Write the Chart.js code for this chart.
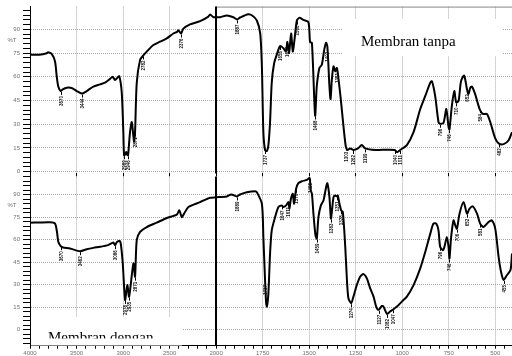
<!DOCTYPE html>
<html>
<head>
<meta charset="utf-8">
<script src="https://cdn.jsdelivr.net/npm/chart.js@4.4.1/dist/chart.umd.min.js"></script>
<style>
  body { margin: 0; background: #fff; }
  #wrap { position: relative; width: 512px; height: 356px; }
  canvas { position: absolute; left: 0; }
  #topChart { top: 0; }
  #bottomChart { top: 170px; }
</style>
</head>
<body>
<div id="wrap">
  <canvas id="topChart" width="512" height="180"></canvas>
  <canvas id="bottomChart" width="512" height="186"></canvas>
</div>
<script>
// spectrum 1 : Membran tanpa (wavenumber cm-1, %T)
const tanpaWave = [4000, 3900, 3820, 3806, 3767, 3731, 3713, 3696, 3670, 3648, 3605, 3552, 3498, 3444, 3390, 3319, 3247, 3194, 3140, 3111, 3086, 3061, 3040, 3014, 2997, 2989, 2975, 2965, 2955, 2946, 2925, 2906, 2882, 2871, 2853, 2817, 2782, 2728, 2674, 2602, 2530, 2459, 2419, 2405, 2376, 2352, 2280, 2172, 2083, 2065, 2029, 2000, 1978, 1942, 1907, 1887, 1871, 1828, 1806, 1781, 1763, 1754, 1746, 1737, 1727, 1719, 1710, 1701, 1688, 1674, 1656, 1638, 1625, 1617, 1608, 1597, 1588, 1579, 1566, 1552, 1531, 1504, 1495, 1485, 1468, 1459, 1445, 1432, 1419, 1409, 1402, 1391, 1385, 1378, 1369, 1360, 1351, 1342, 1330, 1316, 1303, 1294, 1280, 1262, 1240, 1217, 1199, 1145, 1080, 1040, 1028, 1011, 975, 939, 903, 876, 849, 840, 823, 805, 796, 778, 763, 751, 746, 733, 720, 710, 697, 684, 667, 652, 644, 634, 625, 608, 584, 566, 545, 527, 500, 482, 455, 428, 410];
const tanpaT = [73.9, 74.0, 74.9, 75.5, 74.5, 69.7, 60.4, 53.8, 51.0, 52.1, 53.1, 52.9, 51.0, 49.4, 51.0, 53.8, 55.2, 56.3, 58.7, 60.0, 57.9, 59.4, 60.4, 50.0, 25.0, 10.4, 11.0, 12.5, 10.6, 10.4, 25.0, 31.4, 19.0, 25.0, 56.0, 70.7, 73.5, 77.0, 80.1, 82.2, 84.3, 87.4, 88.4, 89.4, 87.4, 90.5, 93.2, 95.2, 98.1, 99.4, 97.7, 97.7, 97.7, 98.8, 97.7, 96.3, 97.5, 99.6, 98.8, 95.6, 87.4, 66.6, 25.0, 13.7, 13.1, 16.8, 31.4, 56.3, 68.7, 74.0, 79.5, 78.0, 76.0, 82.0, 75.0, 87.4, 76.0, 83.2, 95.6, 97.3, 96.0, 94.6, 82.0, 81.3, 35.5, 54.0, 65.6, 67.6, 77.0, 81.5, 79.0, 54.0, 45.9, 58.3, 66.6, 63.5, 65.6, 58.3, 45.9, 29.2, 15.8, 13.7, 14.7, 13.7, 14.5, 16.8, 14.7, 13.7, 13.9, 13.7, 12.3, 13.7, 16.8, 25.0, 39.6, 47.9, 56.3, 57.2, 47.9, 31.4, 30.3, 30.9, 39.6, 28.2, 26.8, 41.7, 51.0, 43.8, 44.8, 57.2, 60.8, 52.1, 49.0, 53.1, 53.8, 49.0, 39.6, 36.5, 36.5, 31.4, 21.0, 17.9, 17.4, 19.9, 25.0];
const tanpaPeaks = [3670, 3444, 2989, 2946, 2871, 2782, 2376, 1887, 1737, 1656, 1617, 1566, 1468, 1402, 1351, 1303, 1262, 1199, 1040, 1011, 796, 746, 710, 652, 584, 482];

// spectrum 2 : Membran dengan
const denganWave = [4000, 3900, 3785, 3731, 3710, 3696, 3670, 3645, 3570, 3462, 3390, 3319, 3247, 3161, 3104, 3086, 3065, 3043, 3032, 3022, 3003, 2978, 2954, 2935, 2889, 2871, 2853, 2817, 2745, 2638, 2530, 2423, 2395, 2369, 2344, 2298, 2172, 2065, 2000, 1942, 1919, 1889, 1871, 1835, 1790, 1781, 1754, 1746, 1737, 1731, 1727, 1719, 1710, 1701, 1683, 1665, 1647, 1638, 1624, 1611, 1606, 1598, 1588, 1581, 1570, 1558, 1539, 1512, 1498, 1491, 1485, 1477, 1466, 1459, 1450, 1437, 1423, 1409, 1402, 1391, 1383, 1378, 1369, 1360, 1351, 1346, 1337, 1328, 1319, 1306, 1297, 1289, 1274, 1262, 1244, 1226, 1208, 1190, 1172, 1154, 1140, 1127, 1109, 1101, 1082, 1065, 1047, 1028, 1002, 975, 939, 903, 876, 849, 832, 817, 805, 796, 781, 773, 760, 751, 746, 737, 724, 715, 706, 692, 670, 652, 638, 620, 598, 581, 563, 536, 518, 500, 482, 469, 455, 437, 418, 410];
const denganT = [71.4, 71.5, 71.6, 70.8, 65.2, 58.6, 55.7, 54.8, 54.2, 52.4, 53.7, 54.6, 55.3, 56.4, 58.1, 56.4, 58.6, 59.2, 59.0, 56.4, 44.2, 19.9, 29.8, 22.1, 44.2, 35.4, 59.7, 65.2, 68.5, 71.4, 74.5, 76.7, 79.6, 75.1, 77.4, 81.8, 85.1, 88.0, 88.3, 88.9, 90.2, 88.9, 90.2, 91.7, 92.4, 91.7, 84.0, 61.9, 33.2, 17.7, 15.5, 24.3, 50.9, 66.3, 75.1, 81.8, 82.9, 81.8, 82.9, 85.1, 80.7, 87.3, 90.6, 84.0, 94.0, 97.7, 99.0, 99.9, 101.2, 92.8, 90.6, 77.4, 63.0, 60.8, 75.1, 82.9, 86.2, 95.0, 97.7, 88.4, 74.1, 78.5, 88.4, 89.5, 88.9, 89.5, 84.0, 79.6, 78.5, 55.3, 33.2, 21.0, 17.7, 22.1, 29.8, 35.4, 37.1, 34.3, 27.6, 22.1, 15.5, 13.3, 15.9, 15.5, 10.6, 12.2, 13.7, 15.5, 18.8, 22.1, 29.8, 40.9, 51.9, 64.1, 70.8, 70.8, 66.3, 55.3, 53.0, 55.3, 61.9, 55.3, 47.5, 61.9, 72.9, 69.6, 67.4, 77.4, 85.1, 77.4, 80.7, 82.2, 77.4, 70.8, 68.5, 71.8, 72.9, 67.4, 48.6, 38.7, 33.2, 36.5, 39.8, 50.9];
const denganPeaks = [3670, 3462, 3086, 2978, 2935, 2871, 1889, 1737, 1647, 1611, 1570, 1498, 1459, 1383, 1351, 1328, 1274, 1127, 1082, 1047, 796, 746, 706, 652, 581, 455];

// tick labels on the wavenumber axis
const waveTicks = [4000, 3500, 3000, 2500, 2000, 1750, 1500, 1250, 1000, 750, 500];
const pctTicks = [0, 15, 30, 45, 60, 75, 90];

// below 2000 cm-1 the axis is stretched x2 (like the instrument print)
function toPos(w) { return w >= 2000 ? w : 2000 - (2000 - w) * 2; }
function toWave(p) { return p >= 2000 ? p : 2000 - (2000 - p) / 2; }

const GRID = '#a9a9a9';
const LABEL = '#707070';

function nearest(arr, w) {
  let best = 0;
  arr.forEach((v, i) => { if (Math.abs(v - w) < Math.abs(arr[best] - w)) best = i; });
  return best;
}

function decor(o) {
  return {
    id: 'decor',
    beforeDatasetsDraw(chart) {
      const { ctx, chartArea, scales: { x, y } } = chart;
      ctx.save();
      if (o.topLine) {
        ctx.strokeStyle = '#888'; ctx.lineWidth = 1;
        ctx.beginPath();
        ctx.moveTo(x.getPixelForValue(2000), chartArea.top + 0.5);
        ctx.lineTo(chartArea.right, chartArea.top + 0.5);
        ctx.stroke();
      }
      const xd = Math.round(x.getPixelForValue(2000));
      ctx.strokeStyle = '#000'; ctx.lineWidth = 2;
      ctx.beginPath(); ctx.moveTo(xd, chartArea.top); ctx.lineTo(xd, chartArea.bottom); ctx.stroke();

      // white label box with the sample name
      const b = o.box;
      ctx.fillStyle = '#fff';
      ctx.fillRect(b.x, b.y, b.w, b.h);
      ctx.beginPath(); ctx.rect(b.x, b.y, b.w, b.clip); ctx.clip();
      ctx.fillStyle = '#000';
      ctx.font = '15px "Liberation Serif", "Times New Roman", serif';
      ctx.fillText(o.title, b.tx, b.ty);
      ctx.restore();

      ctx.save();
      ctx.fillStyle = LABEL;
      ctx.font = '6px "Liberation Sans", Arial';
      ctx.textAlign = 'center'; ctx.textBaseline = 'middle';
      ctx.fillText('%T', 12, y.getPixelForValue(83));
      ctx.restore();
    },
    afterDatasetsDraw(chart) {
      const { ctx, scales: { x, y } } = chart;
      ctx.save();
      ctx.font = 'bold 4.5px "Liberation Sans", Arial';
      ctx.fillStyle = '#111';
      ctx.strokeStyle = '#000';
      ctx.lineWidth = 1;
      o.peaks.forEach(w => {
        const i = nearest(o.waves, w);
        const px = Math.round(x.getPixelForValue(toPos(w))) + 0.5;
        const py = y.getPixelForValue(o.values[i]);
        ctx.beginPath(); ctx.moveTo(px, py + 1); ctx.lineTo(px, py + 4); ctx.stroke();
        ctx.save();
        ctx.translate(px, py + 5);
        ctx.rotate(-Math.PI / 2);
        ctx.textAlign = 'right'; ctx.textBaseline = 'middle';
        ctx.fillText(String(w), 0, 0);
        ctx.restore();
      });
      ctx.restore();
    }
  };
}

function makeChart(id, waves, values, peaks, cfg) {
  const pts = waves.map((w, i) => ({ x: toPos(w), y: values[i] }));
  return new Chart(document.getElementById(id), {
    type: 'line',
    data: {
      datasets: [{
        data: pts,
        borderColor: '#000',
        borderWidth: 2,
        pointRadius: 0,
        tension: 0.25,
        fill: false
      }]
    },
    options: {
      responsive: false,
      animation: false,
      events: [],
      layout: { padding: { top: 6, left: 0, right: 0, bottom: 0 } },
      plugins: { legend: { display: false }, tooltip: { enabled: false } },
      scales: {
        x: {
          type: 'linear',
          reverse: true,
          min: toPos(410),
          max: 4000,
          afterBuildTicks: s => {
            const t = [];
            for (let v = -1100; v <= 4000; v += 100) t.push({ value: v });
            s.ticks = t;
          },
          afterFit: s => { s.height = cfg.xHeight; },
          ticks: {
            display: cfg.xLabels,
            autoSkip: false,
            maxRotation: 0,
            padding: 1,
            color: LABEL,
            font: { family: '"Liberation Sans", Arial', size: 6 },
            callback: v => {
              const w = toWave(v);
              return waveTicks.includes(w) && v % 500 === 0 ? String(w) : '';
            }
          },
          grid: {
            tickLength: 3,
            color: c => (c.tick && c.tick.value % 500 === 0 && c.tick.value !== 2000) ? GRID : 'rgba(0,0,0,0)',
            tickColor: c => (cfg.xMinor || (c.tick && c.tick.value % 500 === 0)) ? '#000' : 'rgba(0,0,0,0)'
          },
          border: { display: cfg.xLabels, color: '#000', width: 1, dash: [1, 1] }
        },
        y: {
          min: cfg.yMin,
          max: cfg.yMax,
          afterBuildTicks: s => {
            const t = [];
            for (let v = Math.ceil(cfg.yMin / 3) * 3; v <= cfg.yMax; v += 3) t.push({ value: v });
            s.ticks = t;
          },
          afterFit: s => { s.width = 30; },
          ticks: {
            autoSkip: false,
            padding: 3,
            color: LABEL,
            font: { family: '"Liberation Sans", Arial', size: 6 },
            callback: v => pctTicks.includes(v) ? String(v) : ''
          },
          grid: {
            tickLength: 7,
            color: c => (c.tick && pctTicks.includes(c.tick.value)) ? GRID : 'rgba(0,0,0,0)',
            tickColor: '#000'
          },
          border: { display: true, color: '#000', width: 1, dash: [1, 1] }
        }
      }
    },
    plugins: [decor({ waves, values, peaks, ...cfg.decor })]
  });
}

makeChart('topChart', tanpaWave, tanpaT, tanpaPeaks, {
  yMin: -1.1, yMax: 104.4, xHeight: 4.5, xLabels: false, xMinor: false,
  decor: {
    title: 'Membran tanpa', topLine: true,
    box: { x: 342, y: 19, w: 160, h: 37, clip: 37, tx: 361, ty: 46 }
  }
});

makeChart('bottomChart', denganWave, denganT, denganPeaks, {
  yMin: -10.6, yMax: 102.1, xHeight: 10.3, xLabels: true, xMinor: true,
  decor: {
    title: 'Membran dengan', topLine: false,
    box: { x: 31, y: 147, w: 151, h: 28.5, clip: 21.5, tx: 48, ty: 172 }
  }
});
</script>
</body>
</html>
